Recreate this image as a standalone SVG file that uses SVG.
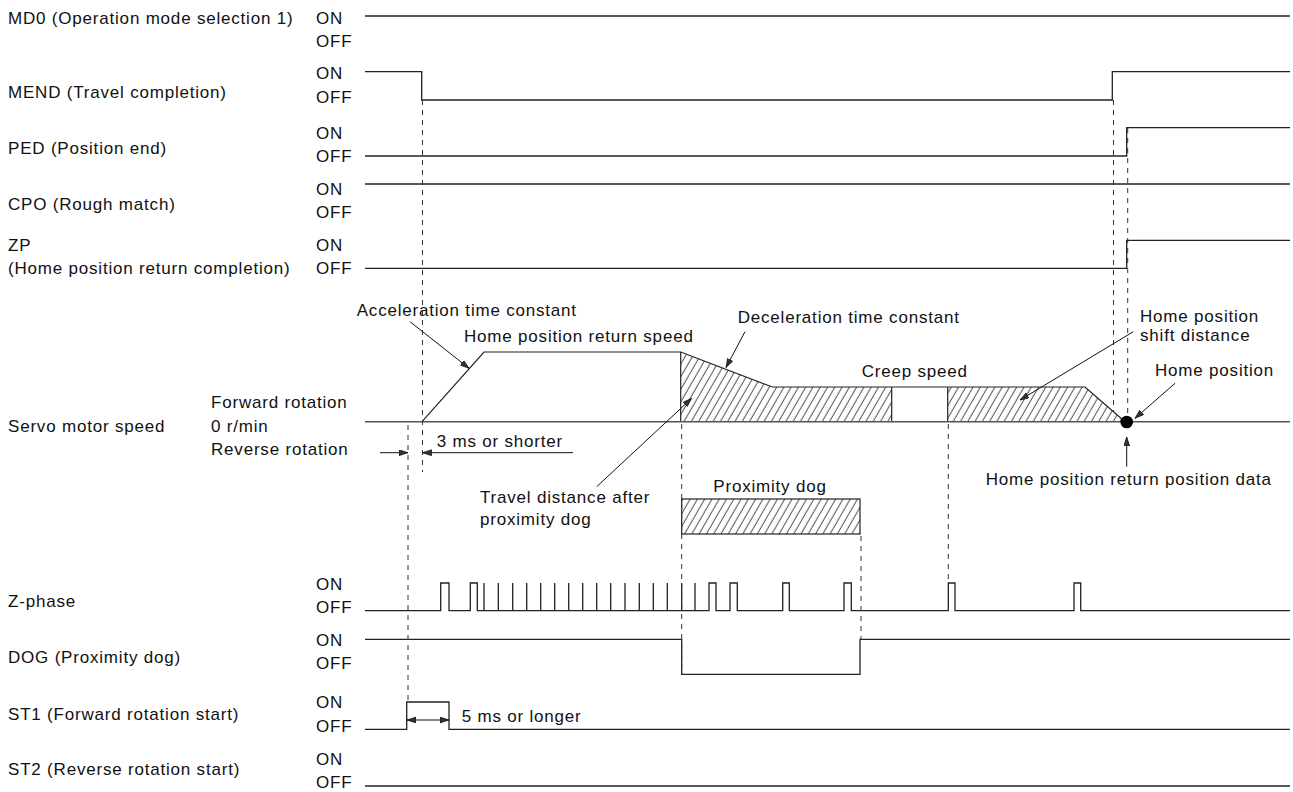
<svg xmlns="http://www.w3.org/2000/svg" width="1293" height="792" viewBox="0 0 1293 792">
<style>
text{font-family:"Liberation Sans",Arial,sans-serif;font-size:17px;letter-spacing:0.8px;fill:#111}
.sig{fill:none;stroke:#222;stroke-width:1.3}
.base{fill:none;stroke:#555;stroke-width:1.6}
.prof{fill:none;stroke:#222;stroke-width:1.2}
.dash{fill:none;stroke:#333;stroke-width:1;stroke-dasharray:5 5}
.lead{fill:none;stroke:#111;stroke-width:1;marker-end:url(#arr)}
</style>
<defs>
<marker id="arr" markerUnits="userSpaceOnUse" markerWidth="10" markerHeight="8" refX="9" refY="3" orient="auto"><path d="M0,0 L9,3 L0,6 z" fill="#333" stroke="#000" stroke-width="0.6"/></marker>
<pattern id="hatch" patternUnits="userSpaceOnUse" width="6.3" height="10" patternTransform="rotate(30)"><line x1="3" y1="-1" x2="3" y2="11" stroke="#333" stroke-width="0.9"/></pattern>
</defs>
<rect width="1293" height="792" fill="#fff"/>

<g id="md0">
<text x="8" y="24">MD0 (Operation mode selection 1)</text>
<text x="316" y="24">ON</text><text x="316" y="47">OFF</text>
<path class="sig" d="M365,16 H1290"/>
</g>
<g id="mend">
<text x="8" y="98">MEND (Travel completion)</text>
<text x="316" y="79">ON</text><text x="316" y="103">OFF</text>
<path class="sig" d="M365,71.7 H421.7 V100 H1112.3 V71.7 H1290"/>
</g>
<g id="ped">
<text x="8" y="154">PED (Position end)</text>
<text x="316" y="139">ON</text><text x="316" y="162">OFF</text>
<path class="sig" d="M365,156 H1126.7 V127.7 H1290"/>
</g>
<g id="cpo">
<text x="8" y="210">CPO (Rough match)</text>
<text x="316" y="195">ON</text><text x="316" y="218">OFF</text>
<path class="sig" d="M365,184 H1290"/>
</g>
<g id="zp">
<text x="8" y="251">ZP</text>
<text x="8" y="274">(Home position return completion)</text>
<text x="316" y="251">ON</text><text x="316" y="274">OFF</text>
<path class="sig" d="M365,268.3 H1126.7 V240.3 H1290"/>
</g>

<g id="servo-speed">
<text x="8" y="432">Servo motor speed</text>
<text x="211" y="408">Forward rotation</text>
<text x="211" y="432">0 r/min</text>
<text x="211" y="455">Reverse rotation</text>
<polygon points="680.7,352 772.3,387 891.7,387 891.7,421.7 680.7,421.7" fill="url(#hatch)"/>
<polygon points="947.7,387 1085,387 1125,421.7 947.7,421.7" fill="url(#hatch)"/>
<path class="prof" d="M422,421.7 L484,352 H680.7 L772.3,387 H1085 L1125,421.7"/>
<path class="prof" d="M680.7,352 V421.7 M891.7,387 V421.7 M947.7,387 V421.7"/>
<path class="base" d="M365,421.7 H1290"/>
<circle cx="1126.7" cy="422" r="6.3" fill="#000"/>
<text x="356.7" y="316">Acceleration time constant</text>
<text x="464" y="341.7">Home position return speed</text>
<text x="737.7" y="323.3">Deceleration time constant</text>
<text x="861.7" y="377.3">Creep speed</text>
<text x="1140" y="322.3">Home position</text>
<text x="1140" y="340.7">shift distance</text>
<text x="1155" y="376">Home position</text>
<text x="985.7" y="485">Home position return position data</text>
<text x="436.7" y="446.7">3 ms or shorter</text>
<text x="480" y="503.3">Travel distance after</text>
<text x="480" y="525">proximity dog</text>
</g>

<g id="proximity-dog">
<text x="713.3" y="491.7">Proximity dog</text>
<rect x="681.7" y="499" width="178.3" height="35" fill="url(#hatch)" stroke="#222" stroke-width="1.2"/>
</g>

<g id="z-phase">
<text x="8" y="607">Z-phase</text>
<text x="316" y="590">ON</text><text x="316" y="613">OFF</text>
<path class="sig" d="M365,610.7 H440.7 V583 H449 V610.7 H470.3 V583 H477.3 V610.7 H484 V583 V610.7 H498.3 V583 V610.7 H512.7 V583 V610.7 H526.7 V583 V610.7 H540.7 V583 V610.7 H554.7 V583 V610.7 H568.7 V583 V610.7 H582.7 V583 V610.7 H596.7 V583 V610.7 H610.7 V583 V610.7 H625 V583 V610.7 H639.3 V583 V610.7 H653.3 V583 V610.7 H667.3 V583 V610.7 H681.7 V583 V610.7 H695 V583 V610.7 H709 V583 H716 V610.7 H730 V583 H737.3 V610.7 H782.7 V583 H789.3 V610.7 H844 V583 H851.3 V610.7 H948.3 V583 H955 V610.7 H1074 V583 H1080.7 V610.7 H1290"/>
</g>
<g id="dog">
<text x="8" y="663">DOG (Proximity dog)</text>
<text x="316" y="646">ON</text><text x="316" y="669">OFF</text>
<path class="sig" d="M365,639.3 H681.7 V674.3 H860 V639.3 H1290"/>
</g>
<g id="st1">
<text x="8" y="720">ST1 (Forward rotation start)</text>
<text x="316" y="708">ON</text><text x="316" y="732">OFF</text>
<path class="sig" d="M365,729.3 H406.7 V702 H449 V729.3 H1290"/>
<text x="461.7" y="721.7">5 ms or longer</text>
</g>
<g id="st2">
<text x="8" y="775">ST2 (Reverse rotation start)</text>
<text x="316" y="765">ON</text><text x="316" y="788">OFF</text>
<path class="sig" d="M365,786 H1290"/>
</g>

<g id="connectors">
<path class="dash" d="M422.5,100 V472"/>
<path class="dash" d="M408,425 V702"/>
<path class="dash" d="M681.7,424 V674"/>
<path class="dash" d="M861,536 V640"/>
<path class="dash" d="M948.3,424 V583"/>
<path class="dash" d="M1113.5,100 V412"/>
<path class="dash" d="M1127.7,128 V416"/>
<path class="lead" d="M380,452.7 H408"/>
<path class="lead" d="M573,452.7 H422.5"/>
<path class="lead" d="M428,720 H407"/>
<path class="lead" d="M428,720 H449"/>
<path class="lead" d="M410,321.7 L469,368.3"/>
<path class="lead" d="M745,331.7 L726,367.5"/>
<path class="lead" d="M596.7,486.7 L691.7,398.3"/>
<path class="lead" d="M1133.3,331.7 L1020,400"/>
<path class="lead" d="M1175,383.3 L1135,418.3"/>
<path class="lead" d="M1126.7,466.7 V437"/>
</g>
</svg>
